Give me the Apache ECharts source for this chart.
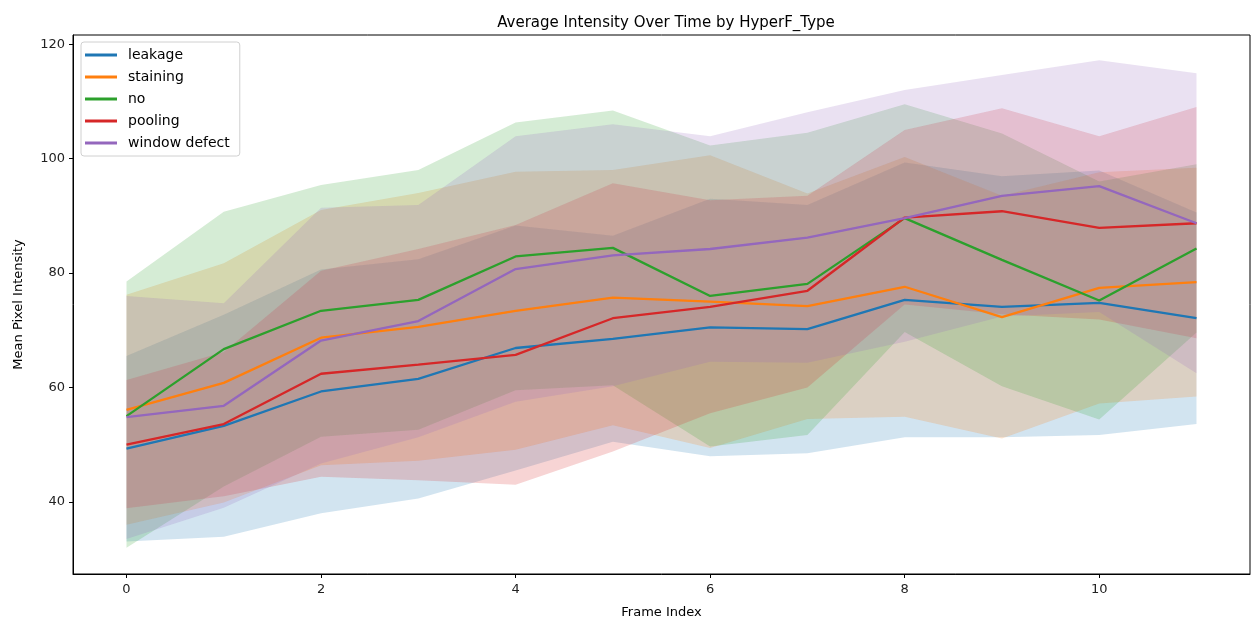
<!DOCTYPE html>
<html>
<head>
<meta charset="utf-8">
<title>Average Intensity Over Time by HyperF_Type</title>
<script src="https://cdn.jsdelivr.net/npm/echarts@6/dist/echarts.min.js"></script>
<style>
  html, body { margin: 0; padding: 0; background: #fff; }
  #chart { width: 1253px; height: 627px; }
</style>
</head>
<body>
<div id="chart"></div>
<script>
// frame index on the x axis
const frames = [0, 1, 2, 3, 4, 5, 6, 7, 8, 9, 10, 11];
const xTicks = [0, 2, 4, 6, 8, 10];
const yTicks = [40, 60, 80, 100, 120];

const types = ['leakage', 'staining', 'no', 'pooling', 'window defect'];

// mean pixel intensity per type
const leakageMean = [49.3, 53.3, 59.3, 61.5, 66.9, 68.5, 70.5, 70.2, 75.3, 74.1, 74.8, 72.1];
const stainingMean = [56.1, 60.8, 68.7, 70.6, 73.4, 75.7, 75.0, 74.2, 77.6, 72.3, 77.4, 78.4];
const noMean = [55.0, 66.7, 73.4, 75.3, 82.9, 84.4, 76.0, 78.1, 89.6, 82.3, 75.2, 84.3];
const poolingMean = [50.0, 53.6, 62.4, 64.0, 65.7, 72.1, 74.1, 76.9, 89.7, 90.8, 87.9, 88.7];
const windowMean = [54.8, 56.8, 68.2, 71.6, 80.7, 83.1, 84.2, 86.2, 89.6, 93.5, 95.2, 88.7];

// shaded band (lower / upper) per type
const leakageLow = [33.1, 33.9, 38.0, 40.6, 45.5, 50.5, 48.0, 48.5, 51.3, 51.3, 51.7, 53.6];
const leakageHigh = [65.5, 72.7, 80.6, 82.4, 88.3, 86.5, 93.0, 91.9, 99.3, 96.9, 97.9, 90.6];
const stainingLow = [36.0, 39.9, 46.4, 47.2, 49.1, 53.4, 49.4, 54.5, 54.9, 51.1, 57.2, 58.4];
const stainingHigh = [76.2, 81.7, 91.0, 94.0, 97.7, 98.0, 100.6, 93.9, 100.3, 93.5, 97.6, 98.4];
const noLow = [32.0, 42.7, 51.4, 52.6, 59.5, 60.4, 49.7, 51.7, 69.7, 60.2, 54.4, 69.6];
const noHigh = [78.5, 90.7, 95.4, 98.0, 106.3, 108.4, 102.3, 104.5, 109.5, 104.4, 96.0, 99.0];
const poolingLow = [38.9, 41.0, 44.4, 43.8, 43.0, 48.8, 55.5, 60.0, 74.5, 72.8, 71.9, 68.6];
const poolingHigh = [61.3, 66.2, 80.4, 84.2, 88.4, 95.7, 92.7, 93.5, 105.0, 108.8, 103.9, 109.0];
const windowLow = [33.5, 39.0, 46.7, 51.3, 57.5, 60.2, 64.5, 64.3, 68.0, 72.4, 73.2, 62.5];
const windowHigh = [76.0, 74.7, 91.4, 91.9, 103.9, 106.0, 103.9, 108.1, 112.0, 114.6, 117.2, 114.9];

const means = [leakageMean, stainingMean, noMean, poolingMean, windowMean];
const lows = [leakageLow, stainingLow, noLow, poolingLow, windowLow];
const highs = [leakageHigh, stainingHigh, noHigh, poolingHigh, windowHigh];
const colors = ['#1f77b4', '#ff7f0e', '#2ca02c', '#d62728', '#9467bd'];

const font = 'DejaVu Sans, sans-serif';

const series = [];
// shaded bands, each one polygon through the axis scales
types.forEach((t, i) => {
  series.push({
    name: t + ' band',
    type: 'custom',
    data: frames.map((f, j) => [f, lows[i][j], highs[i][j]]),
    encode: { x: 0, y: [1, 2] },
    silent: true,
    z: 1,
    renderItem: (params, api) => {
      if (params.dataIndex !== 0) return null;
      const top = frames.map((f, j) => api.coord([f, highs[i][j]]));
      const bottom = frames.map((f, j) => api.coord([f, lows[i][j]])).reverse();
      return {
        type: 'polygon',
        shape: { points: top.concat(bottom) },
        style: { fill: colors[i], opacity: 0.2 }
      };
    }
  });
});
types.forEach((t, i) => {
  series.push({
    name: t,
    type: 'line',
    data: frames.map((f, j) => [f, means[i][j]]),
    symbol: 'none',
    color: colors[i],
    lineStyle: { width: 2.3, color: colors[i] },
    z: 3
  });
});

const chart = echarts.init(document.getElementById('chart'), null, { renderer: 'canvas' });
chart.setOption({
  animation: false,
  textStyle: { fontFamily: font },
  title: {
    text: 'Average Intensity Over Time by HyperF_Type',
    left: 661,
    textAlign: 'center',
    top: 11,
    textStyle: { fontFamily: font, fontSize: 15, fontWeight: 'normal', color: '#000' }
  },
  legend: {
    data: types,
    orient: 'vertical',
    left: 81,
    top: 42,
    padding: [6, 10, 6, 4],
    itemGap: 8,
    itemWidth: 32,
    itemHeight: 3,
    icon: 'rect',
    borderColor: '#d0d0d0',
    borderWidth: 1,
    borderRadius: 3,
    backgroundColor: 'rgba(255,255,255,0.8)',
    textStyle: { fontFamily: font, fontSize: 14, color: '#000', padding: [0, 0, 0, 6] }
  },
  grid: {
    left: 73,
    right: 3,
    top: 35,
    bottom: 53,
    show: true,
    borderColor: '#000',
    borderWidth: 1
  },
  xAxis: {
    type: 'value',
    min: -0.55,
    max: 11.55,
    name: 'Frame Index',
    nameLocation: 'middle',
    nameGap: 32,
    nameTextStyle: { fontFamily: font, fontSize: 13, color: '#000' },
    axisLine: { show: true, onZero: false, lineStyle: { color: '#000' } },
    axisTick: { show: true, length: 4, customValues: xTicks, lineStyle: { color: '#000' } },
    axisLabel: { customValues: xTicks, fontFamily: font, fontSize: 13, color: '#222', margin: 9 },
    splitLine: { show: false }
  },
  yAxis: {
    type: 'value',
    min: 27.4,
    max: 121.6,
    name: 'Mean Pixel Intensity',
    nameLocation: 'middle',
    nameGap: 48,
    nameTextStyle: { fontFamily: font, fontSize: 13, color: '#000' },
    axisLine: { show: true, onZero: false, lineStyle: { color: '#000' } },
    axisTick: { show: true, length: 4, customValues: yTicks, lineStyle: { color: '#000' } },
    axisLabel: { customValues: yTicks, fontFamily: font, fontSize: 13, color: '#222', margin: 8 },
    splitLine: { show: false }
  },
  series: series
});
</script>
</body>
</html>
